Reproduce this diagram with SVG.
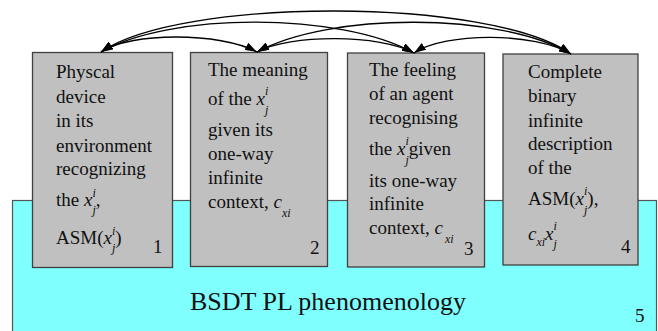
<svg xmlns="http://www.w3.org/2000/svg" width="658" height="331" viewBox="0 0 658 331">
<style>
.box{fill:#C0C0C0;stroke:#404040;stroke-width:1.3}
.i{font-style:italic}
.s{font-size:12px;font-style:italic}
.arc{fill:none;stroke:#000;stroke-width:1.3}
</style>
<defs>
<marker id="ah" markerUnits="userSpaceOnUse" markerWidth="12" markerHeight="8" refX="12" refY="4" orient="auto-start-reverse">
<path d="M0,0 L12,4 L0,8 z" fill="#000"/>
</marker>
</defs>
<rect width="658" height="331" fill="#fff"/>
<g id="n5" font-family="Liberation Serif, serif" font-size="19" fill="#111">
<rect x="12.5" y="200.5" width="644" height="140" fill="#80FFFF" stroke="#555" stroke-width="1.2"/>
<text x="190" y="310" font-size="26">BSDT PL phenomenology</text>
<text x="635" y="322">5</text>
</g>
<g id="n1" font-family="Liberation Serif, serif" font-size="19" fill="#111">
<rect class="box" x="32.5" y="52.5" width="140" height="215"/>
<text x="56" y="78">Physcal</text>
<text x="56" y="102.5">device</text>
<text x="56" y="127">in its</text>
<text x="56" y="151.5">environment</text>
<text x="56" y="175">recognizing</text>
<text x="56" y="206">the <tspan class="i">x</tspan><tspan class="s" dy="-9">i</tspan><tspan class="s" dx="-3.3" dy="17">j</tspan><tspan dy="-8">,</tspan></text>
<text x="56" y="244">ASM(<tspan class="i">x</tspan><tspan class="s" dy="-9">i</tspan><tspan class="s" dx="-3.3" dy="17">j</tspan><tspan dy="-8">)</tspan></text>
<text x="153" y="253">1</text>
</g>
<g id="n2" font-family="Liberation Serif, serif" font-size="19" fill="#111">
<rect class="box" x="190.5" y="52.5" width="137" height="214"/>
<text x="208" y="76">The meaning</text>
<text x="208" y="105">of the <tspan class="i">x</tspan><tspan class="s" dy="-10">i</tspan><tspan class="s" dx="-3.3" dy="19">j</tspan></text>
<text x="208" y="136">given its</text>
<text x="208" y="159.5">one-way</text>
<text x="208" y="183.5">infinite</text>
<text x="208" y="208">context, <tspan class="i">c</tspan><tspan class="s" dy="9">xi</tspan></text>
<text x="310" y="254">2</text>
</g>
<g id="n3" font-family="Liberation Serif, serif" font-size="19" fill="#111">
<rect class="box" x="347.5" y="53" width="137" height="214"/>
<text x="369" y="76">The feeling</text>
<text x="369" y="100">of an agent</text>
<text x="369" y="123.5">recognising</text>
<text x="369" y="155">the <tspan class="i">x</tspan><tspan class="s" dy="-10">i</tspan><tspan class="s" dx="-3.3" dy="19">j</tspan><tspan dy="-9">given</tspan></text>
<text x="369" y="187">its one-way</text>
<text x="369" y="210">infinite</text>
<text x="369" y="233.5">context, <tspan class="i">c</tspan><tspan class="s" dx="2" dy="9">xi</tspan></text>
<text x="464" y="255">3</text>
</g>
<g id="n4" font-family="Liberation Serif, serif" font-size="19" fill="#111">
<rect class="box" x="503" y="54" width="135" height="211"/>
<text x="528" y="77.5">Complete</text>
<text x="528" y="101.5">binary</text>
<text x="528" y="126.5">infinite</text>
<text x="528" y="150">description</text>
<text x="528" y="174">of the</text>
<text x="528" y="205">ASM(<tspan class="i">x</tspan><tspan class="s" dy="-10">i</tspan><tspan class="s" dx="-3.3" dy="19">j</tspan><tspan dy="-9">),</tspan></text>
<text x="528" y="240"><tspan class="i">c</tspan><tspan class="s" dy="6">xi</tspan><tspan class="i" dy="-6">x</tspan><tspan class="s" dy="-10">i</tspan><tspan class="s" dx="-3.3" dy="18">j</tspan></text>
<text x="621" y="253">4</text>
</g>
<g id="connectors">
<path class="arc" d="M101,52 C180,-3 490,-3 571,54" marker-start="url(#ah)" marker-end="url(#ah)"/>
<path class="arc" d="M101,52 C170,12 340,12 414,53" marker-start="url(#ah)" marker-end="url(#ah)"/>
<path class="arc" d="M257,52 C330,12 500,12 571,54" marker-start="url(#ah)" marker-end="url(#ah)"/>
<path class="arc" d="M101,52 C130,32 220,32 257,52" marker-start="url(#ah)" marker-end="url(#ah)"/>
<path class="arc" d="M257,52 C290,34 380,34 414,53" marker-start="url(#ah)" marker-end="url(#ah)"/>
<path class="arc" d="M414,53 C445,32 535,32 571,54" marker-start="url(#ah)" marker-end="url(#ah)"/>
</g>
</svg>
